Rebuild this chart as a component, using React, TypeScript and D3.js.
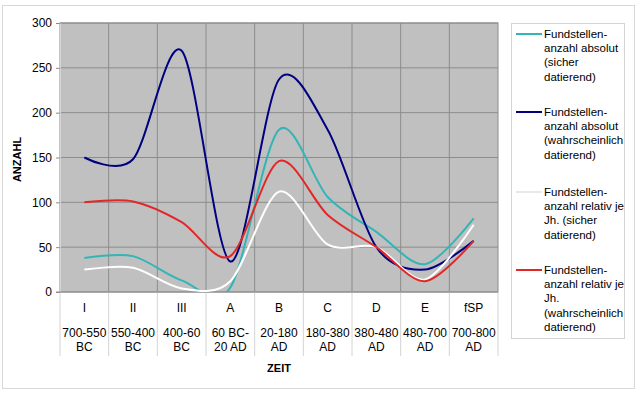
import React, { useEffect, useRef } from 'react';
import * as d3 from 'd3';

const periods = ['I', 'II', 'III', 'A', 'B', 'C', 'D', 'E', 'fSP'];
const periodDates = [
  ['700-550', 'BC'],
  ['550-400', 'BC'],
  ['400-60', 'BC'],
  ['60 BC-', '20 AD'],
  ['20-180', 'AD'],
  ['180-380', 'AD'],
  ['380-480', 'AD'],
  ['480-700', 'AD'],
  ['700-800', 'AD'],
];
const absSicher = [38, 40, 13, 5, 181, 106, 67, 31, 82];
const absWahrsch = [150, 148, 269, 34, 237, 181, 50, 25, 57];
const relSicher = [25, 27, 4, 12, 112, 53, 50, 14, 75];
const relWahrsch = [100, 101, 78, 40, 146, 86, 50, 12, 57];
const yTicks = [0, 50, 100, 150, 200, 250, 300];

const series = [
  { values: absSicher, color: '#33b5b5', label: ['Fundstellen-', 'anzahl absolut', '(sicher', 'datierend)'] },
  { values: absWahrsch, color: '#000080', label: ['Fundstellen-', 'anzahl absolut', '(wahrscheinlich', 'datierend)'] },
  { values: relSicher, color: '#ffffff', label: ['Fundstellen-', 'anzahl relativ je', 'Jh. (sicher', 'datierend)'] },
  { values: relWahrsch, color: '#e32626', label: ['Fundstellen-', 'anzahl relativ je', 'Jh.', '(wahrscheinlich', 'datierend)'] },
];

const App: React.FC = () => {
  const svgRef = useRef<SVGSVGElement>(null);

  useEffect(() => {
    const width = 640, height = 393;
    const margin = { top: 23, right: 142, bottom: 101, left: 60 };
    const w = width - margin.left - margin.right;
    const h = height - margin.top - margin.bottom;
    const font = 'Liberation Sans, Arial, sans-serif';

    const svg = d3.select(svgRef.current);
    svg.selectAll('*').remove();
    svg.attr('width', width).attr('height', height)
      .style('position', 'absolute').style('left', 0).style('top', 0);

    svg.append('rect').attr('x', 2.5).attr('y', 5.5).attr('width', 632).attr('height', 383)
      .attr('fill', '#fff').attr('stroke', '#d8d8d8');

    const g = svg.append('g').attr('transform', `translate(${margin.left},${margin.top})`);

    const x = d3.scaleBand().domain(periods).range([0, w]);
    const y = d3.scaleLinear().domain([0, 300]).range([h, 0]);

    g.append('rect').attr('width', w).attr('height', h).attr('fill', '#c0c0c0');

    // grid
    g.selectAll('.hgrid').data(yTicks.slice(1)).enter().append('line')
      .attr('x1', 0).attr('x2', w)
      .attr('y1', d => y(d)).attr('y2', d => y(d))
      .attr('stroke', '#8c8c8c').attr('stroke-width', 1);
    g.selectAll('.vgrid').data(periods.slice(1)).enter().append('line')
      .attr('x1', d => x(d)!).attr('x2', d => x(d)!)
      .attr('y1', 0).attr('y2', h)
      .attr('stroke', '#8c8c8c').attr('stroke-width', 1);
    g.append('rect').attr('width', w).attr('height', h).attr('fill', 'none').attr('stroke', '#8c8c8c');

    // category separators below the plot
    const seps = [...periods.map(p => x(p)!), w];
    g.selectAll('.sep').data(seps).enter().append('line')
      .attr('x1', d => d).attr('x2', d => d)
      .attr('y1', h).attr('y2', h + 64)
      .attr('stroke', '#d4d4d4');

    // y axis
    const yAxis = g.append('g').call(d3.axisLeft(y).tickValues(yTicks).tickSize(4).tickPadding(4));
    yAxis.select('.domain').attr('stroke', '#d4d4d4');
    yAxis.selectAll('.tick line').attr('stroke', '#8c8c8c');
    yAxis.selectAll('text').attr('font-family', font).attr('font-size', 12).attr('fill', '#000');
    g.append('line').attr('x1', -4).attr('x2', w).attr('y1', h).attr('y2', h).attr('stroke', '#8c8c8c');

    // category labels
    const cx = (p: string) => x(p)! + x.bandwidth() / 2;
    g.selectAll('.cat').data(periods).enter().append('text')
      .attr('x', d => cx(d)).attr('y', h + 20)
      .attr('text-anchor', 'middle').attr('font-family', font).attr('font-size', 12)
      .text(d => d);
    periods.forEach((p, i) => {
      periodDates[i].forEach((t, j) => {
        g.append('text').attr('x', cx(p)).attr('y', h + 45 + j * 14)
          .attr('text-anchor', 'middle').attr('font-family', font).attr('font-size', 12)
          .text(t);
      });
    });

    g.append('text').attr('x', w / 2).attr('y', h + 80).attr('text-anchor', 'middle')
      .attr('font-family', font).attr('font-size', 11).attr('font-weight', 'bold').text('ZEIT');
    g.append('text').attr('transform', `translate(${-39},${h / 2 + 2}) rotate(-90)`)
      .attr('text-anchor', 'middle').attr('font-family', font).attr('font-size', 11)
      .attr('font-weight', 'bold').text('ANZAHL');

    // lines
    svg.append('defs').append('clipPath').attr('id', 'plotclip')
      .append('rect').attr('width', w).attr('height', h);
    const lines = g.append('g').attr('clip-path', 'url(#plotclip)');
    series.forEach(s => {
      const line = d3.line<number>()
        .x((_, i) => cx(periods[i]))
        .y(d => y(d))
        .curve(d3.curveCardinal.tension(0.1));
      lines.append('path').datum(s.values)
        .attr('fill', 'none').attr('stroke', s.color).attr('stroke-width', 2)
        .attr('d', line);
    });

    // legend
    const lg = svg.append('g');
    lg.append('rect').attr('x', 511.5).attr('y', 23.5).attr('width', 113).attr('height', 315)
      .attr('fill', '#fff').attr('stroke', '#d4d4d4');
    const starts = [34, 112, 192, 270];
    series.forEach((s, i) => {
      lg.append('line').attr('x1', 516).attr('x2', 542)
        .attr('y1', starts[i]).attr('y2', starts[i])
        .attr('stroke', s.color === '#ffffff' ? '#e8e8e8' : s.color).attr('stroke-width', 2);
      s.label.forEach((t, j) => {
        lg.append('text').attr('x', 544).attr('y', starts[i] + 4 + j * 14.2)
          .attr('font-family', font).attr('font-size', 11.5).attr('fill', '#000').text(t);
      });
    });
  }, []);

  return <svg ref={svgRef}></svg>;
};

export default App;
